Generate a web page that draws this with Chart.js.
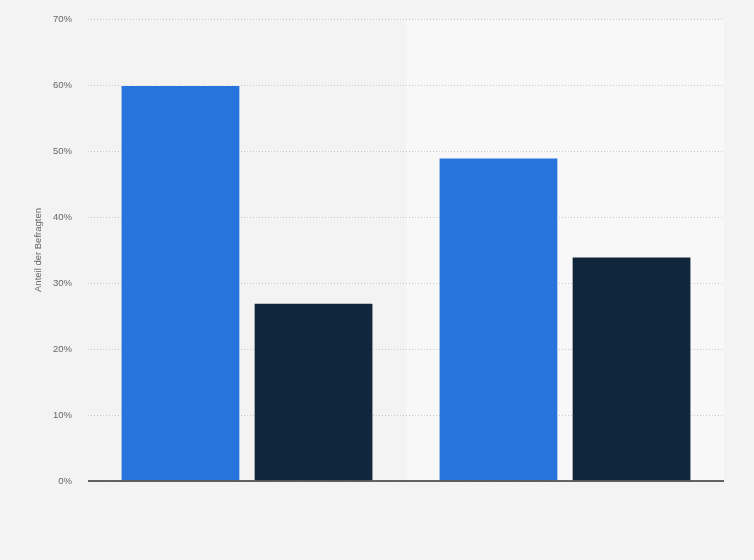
<!DOCTYPE html>
<html>
<head>
<meta charset="utf-8">
<script src="https://cdn.jsdelivr.net/npm/chart.js@4/dist/chart.umd.min.js"></script>
<style>
html,body{margin:0;padding:0;background:#f3f3f3;}
#wrap{width:754px;height:560px;position:relative;}
</style>
</head>
<body>
<div id="wrap"><canvas id="c" width="754" height="560"></canvas></div>
<script>
const categories = ["", ""];
const seriesA = [60, 49];
const seriesB = [27, 34];
const yTicks = [0, 10, 20, 30, 40, 50, 60, 70];
const yTitle = "Anteil der Befragten";

const bandPlugin = {
  id: 'bands',
  beforeDraw(chart) {
    const {ctx, chartArea} = chart;
    ctx.save();
    ctx.fillStyle = '#f3f3f3';
    ctx.fillRect(0, 0, chart.width, chart.height);
    const n = categories.length;
    const w = (chartArea.right - chartArea.left) / n;
    for (let i = 0; i < n; i++) {
      if (i % 2 === 1) {
        ctx.fillStyle = '#f8f8f8';
        ctx.fillRect(chartArea.left + i * w, chartArea.top, w, chartArea.bottom - chartArea.top);
      }
    }
    ctx.restore();
  },
  afterDatasetsDraw(chart) {
    const {ctx, chartArea, scales} = chart;
    const y0 = scales.y.getPixelForValue(0);
    ctx.save();
    ctx.strokeStyle = '#333333';
    ctx.lineWidth = 1.5;
    ctx.beginPath();
    ctx.moveTo(chartArea.left, y0);
    ctx.lineTo(chartArea.right, y0);
    ctx.stroke();
    ctx.restore();
  }
};

new Chart(document.getElementById('c'), {
  type: 'bar',
  data: {
    labels: categories,
    datasets: [
      {data: seriesA, backgroundColor: '#2775dc', borderColor: 'rgba(255,255,255,0.25)', borderWidth: 1, categoryPercentage: 0.837, barPercentage: 0.9},
      {data: seriesB, backgroundColor: '#10263b', borderColor: 'rgba(255,255,255,0.15)', borderWidth: 1, categoryPercentage: 0.837, barPercentage: 0.9}
    ]
  },
  options: {
    responsive: false,
    animation: false,
    devicePixelRatio: 1,
    layout: {padding: {left: 33, right: 30, top: 19, bottom: 79}},
    plugins: {legend: {display: false}, tooltip: {enabled: false}},
    scales: {
      x: {
        display: false,
        grid: {display: false}
      },
      y: {
        min: 0, max: 70,
        afterBuildTicks(scale) { scale.ticks = yTicks.map(v => ({value: v})); },
        afterFit(scale) { scale.width = 55; },
        ticks: {
          stepSize: 10,
          padding: 0,
          color: '#666666',
          font: {family: 'Liberation Sans, Arial, sans-serif', size: 9.5},
          callback: v => v + '%'
        },
        grid: {color: '#c8c8c8', lineWidth: 1, drawTicks: true, tickLength: 16, tickColor: 'rgba(0,0,0,0)'},
        border: {display: false, dash: [1, 2]},
        title: {
          display: true,
          text: yTitle,
          color: '#666666',
          font: {family: 'Liberation Sans, Arial, sans-serif', size: 9.5},
          padding: {top: 0, bottom: 0}
        }
      }
    }
  },
  plugins: [bandPlugin]
});
</script>
</body>
</html>
